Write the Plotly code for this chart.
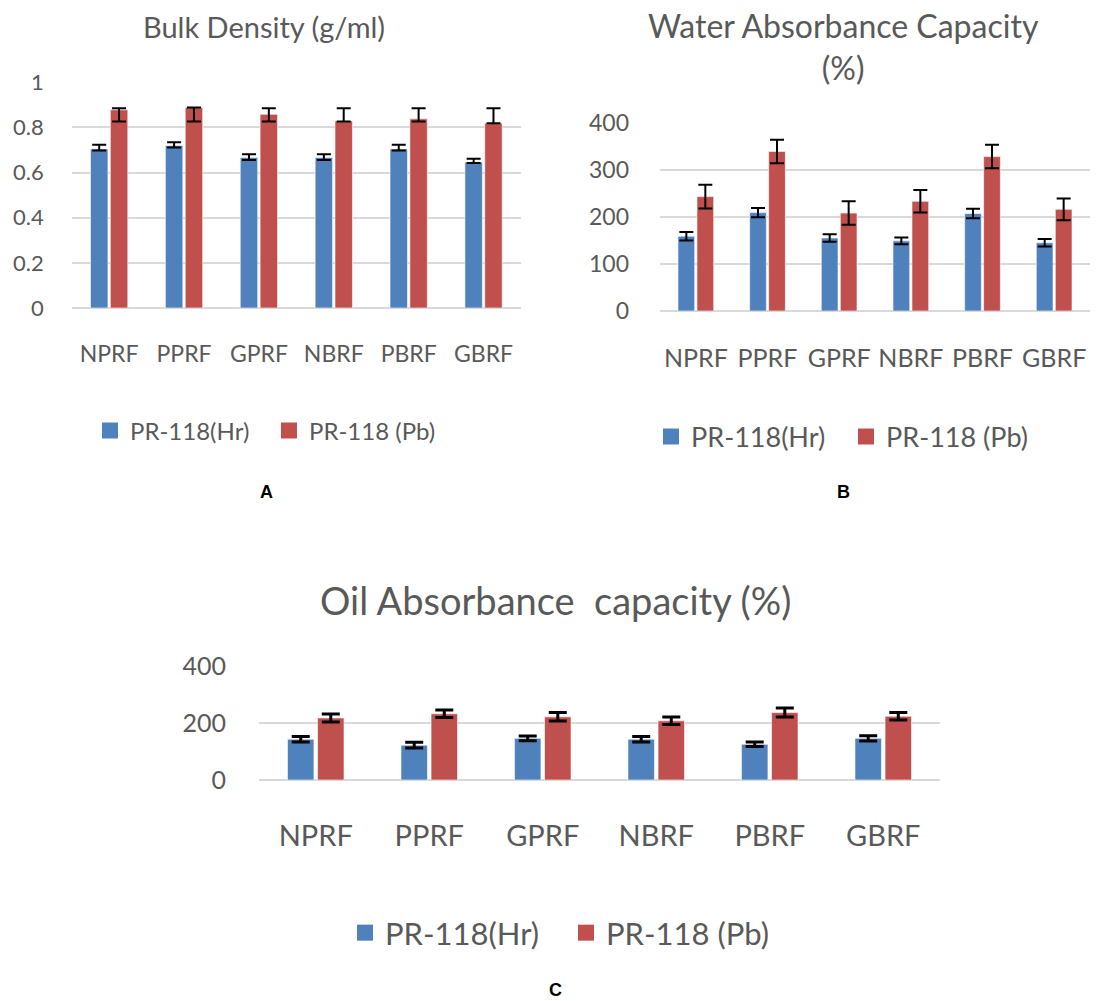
import plotly.graph_objects as go

categories = ["NPRF", "PPRF", "GPRF", "NBRF", "PBRF", "GBRF"]
series_names = ["PR-118(Hr)", "PR-118 (Pb)"]

# Panel A: Bulk Density (g/ml)
bd_hr = [0.705, 0.72, 0.667, 0.667, 0.705, 0.646]
bd_hr_plus = [0.018, 0.014, 0.014, 0.014, 0.018, 0.015]
bd_hr_minus = [0.007, 0.009, 0.011, 0.011, 0.007, 0.004]
bd_pb = [0.878, 0.888, 0.858, 0.829, 0.838, 0.819]
bd_pb_plus = [0.007, 0.0, 0.027, 0.056, 0.047, 0.066]
bd_pb_minus = [0.052, 0.062, 0.032, 0.003, 0.012, 0.0]

# Panel B: Water Absorbance Capacity (%)
wa_hr = [159, 209, 155, 149, 207, 145]
wa_hr_err = [9, 10, 8, 7, 10, 8]
wa_pb = [243, 339, 208, 233, 328, 216]
wa_pb_err = [25, 25, 25, 24, 25, 23]

# Panel C: Oil Absorbance capacity (%)
oa_hr = [144, 123, 147, 144, 126, 147]
oa_hr_err = [10, 10, 8, 10, 8, 9]
oa_pb = [219, 234, 223, 209, 238, 225]
oa_pb_err = [14, 13, 15, 13, 16, 13]

W, H = 1097, 1001
BLUE = "#4F81BD"
RED = "#C0504D"
TXT = "#595959"
GRID = "#D9D9D9"
FONT = "Lato, 'Open Sans', sans-serif"

def fx(px):
    return px / W

def fy(py):
    return 1 - py / H

fig = go.Figure()

panels = [
    dict(hr=bd_hr, pb=bd_pb,
         hr_err=dict(type="data", symmetric=False, array=bd_hr_plus, arrayminus=bd_hr_minus),
         pb_err=dict(type="data", symmetric=False, array=bd_pb_plus, arrayminus=bd_pb_minus),
         xa="x", ya="y", legend="legend", ew=7, et=2, msize=16),
    dict(hr=wa_hr, pb=wa_pb,
         hr_err=dict(type="data", array=wa_hr_err),
         pb_err=dict(type="data", array=wa_pb_err),
         xa="x2", ya="y2", legend="legend2", ew=7, et=2, msize=17),
    dict(hr=oa_hr, pb=oa_pb,
         hr_err=dict(type="data", array=oa_hr_err),
         pb_err=dict(type="data", array=oa_pb_err),
         xa="x3", ya="y3", legend="legend3", ew=9, et=3, msize=19),
]

for p in panels:
    for name, vals, err, col in [(series_names[0], p["hr"], p["hr_err"], BLUE),
                                 (series_names[1], p["pb"], p["pb_err"], RED)]:
        e = dict(err)
        e.update(color="black", thickness=p["et"], width=p["ew"], visible=True)
        fig.add_trace(go.Bar(
            x=categories, y=vals, name=name, marker_color=col,
            marker_line=dict(color="rgba(255,255,255,0.6)", width=1),
            error_y=e, xaxis=p["xa"], yaxis=p["ya"], showlegend=False,
        ))
    # legend-only entries with square swatches
    for name, col in [(series_names[0], BLUE), (series_names[1], RED)]:
        fig.add_trace(go.Scatter(
            x=[None], y=[None], mode="markers", name=name,
            marker=dict(symbol="square", size=p["msize"], color=col),
            xaxis=p["xa"], yaxis=p["ya"], legend=p["legend"], showlegend=True,
        ))

axis_common = dict(showline=False, ticks="", showgrid=False, fixedrange=True)
yaxis_common = dict(showline=False, ticks="", showgrid=True, gridcolor=GRID, gridwidth=2,
                    zeroline=True, zerolinecolor=GRID, zerolinewidth=2, fixedrange=True)

fig.update_layout(
    width=W, height=H,
    margin=dict(l=0, r=0, t=0, b=0, autoexpand=False),
    paper_bgcolor="white", plot_bgcolor="white",
    font=dict(family=FONT, color=TXT),
    barmode="group", bargap=0.47, bargroupgap=0.12,
    showlegend=True,
    xaxis=dict(domain=[fx(71.7), fx(521)], anchor="y", tickfont=dict(size=23), ticklabelstandoff=30, **axis_common),
    yaxis=dict(domain=[fy(308), fy(82.3)], anchor="x", range=[0, 1], dtick=0.2,
               tickfont=dict(size=22), ticklabelstandoff=27, **yaxis_common),
    xaxis2=dict(domain=[fx(660), fx(1090)], anchor="y2", tickfont=dict(size=25), ticklabelstandoff=30, **axis_common),
    yaxis2=dict(domain=[fy(311), fy(122.7)], anchor="x2", range=[0, 400], dtick=100,
                tickfont=dict(size=23), ticklabelstandoff=30, **yaxis_common),
    xaxis3=dict(domain=[fx(259), fx(940)], anchor="y3", tickfont=dict(size=29), ticklabelstandoff=36, **axis_common),
    yaxis3=dict(domain=[fy(780), fy(666.7)], anchor="x3", range=[0, 400], dtick=200,
                tickfont=dict(size=25), ticklabelstandoff=32, **yaxis_common),
    legend=dict(orientation="h", x=fx(90), y=fy(431), xanchor="left", yanchor="middle",
                entrywidth=134, font=dict(size=24, color=TXT), bgcolor="rgba(0,0,0,0)"),
    legend2=dict(orientation="h", x=fx(651), y=fy(437), xanchor="left", yanchor="middle",
                 entrywidth=150, font=dict(size=27, color=TXT), bgcolor="rgba(0,0,0,0)"),
    legend3=dict(orientation="h", x=fx(345), y=fy(933), xanchor="left", yanchor="middle",
                 entrywidth=176, font=dict(size=31, color=TXT), bgcolor="rgba(0,0,0,0)"),
)

annotations = [
    dict(text="Bulk Density (g/ml)", x=fx(264), y=fy(27), size=29, color=TXT, family=FONT),
    dict(text="Water Absorbance Capacity<br>(%)", x=fx(843), y=fy(46), size=32, color=TXT, family=FONT),
    dict(text="Oil Absorbance  capacity (%)", x=fx(555), y=fy(600), size=38, color=TXT, family=FONT),
    dict(text="<b>A</b>", x=fx(266), y=fy(492), size=18, color="black", family="Arial, Liberation Sans, sans-serif"),
    dict(text="<b>B</b>", x=fx(843), y=fy(492), size=18, color="black", family="Arial, Liberation Sans, sans-serif"),
    dict(text="<b>C</b>", x=fx(555), y=fy(990), size=18, color="black", family="Arial, Liberation Sans, sans-serif"),
]
for a in annotations:
    fig.add_annotation(text=a["text"], x=a["x"], y=a["y"], xref="paper", yref="paper",
                       xanchor="center", yanchor="middle", showarrow=False,
                       font=dict(size=a["size"], color=a["color"], family=a["family"]))

fig.write_html(
    "out.html",
    config={"displayModeBar": False},
    post_script="document.body.style.margin='0';document.body.style.overflow='hidden';",
)
